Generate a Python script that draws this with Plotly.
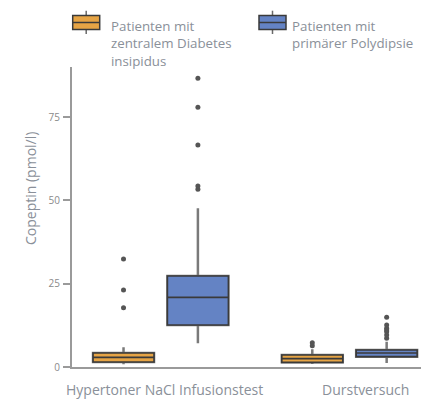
import plotly.graph_objects as go

# ---- data ----
categories = ["Hypertoner NaCl Infusionstest", "Durstversuch"]

cdi_q1 = [1.5, 1.4]
cdi_median = [2.9, 2.5]
cdi_q3 = [4.2, 3.6]
cdi_lower = [0.8, 0.9]
cdi_upper = [5.9, 5.3]
cdi_outliers = [[17.8, 23.1, 32.4], [6.4, 7.3]]

pp_q1 = [12.6, 3.1]
pp_median = [20.9, 4.2]
pp_q3 = [27.3, 5.1]
pp_lower = [7.1, 1.2]
pp_upper = [47.6, 7.6]
pp_outliers = [[53.3, 54.3, 66.6, 77.9, 86.6], [8.6, 9.6, 10.6, 11.1, 11.6, 12.6, 14.9]]

series_names = ["Patienten mit<br>zentralem Diabetes<br>insipidus", "Patienten mit<br>primärer Polydipsie"]
y_ticks = [0, 25, 50, 75]
y_title = "Copeptin (pmol/l)"

ORANGE = "#E6A445"
BLUE = "#6483C4"
TEXT = "#8a9099"
AXIS = "#9a9a9a"
FONT = "Open Sans"
FS = 14.0
FS_LEG = 13.3

# page body has an 8px margin: figure placed at (8, 8)
OFF = 8
W, H = 429 - OFF, 400 - OFF
L, R, T, B = 72 - OFF, 1, 67 - OFF, 33
PW, PH = W - L - R, H - T - B


def px(x):
    return (x - OFF - L) / PW


def py(y):
    return (H - B - (y - OFF)) / PH


fig = go.Figure()

series = [
    (cdi_q1, cdi_median, cdi_q3, cdi_lower, cdi_upper, cdi_outliers, ORANGE, "cdi"),
    (pp_q1, pp_median, pp_q3, pp_lower, pp_upper, pp_outliers, BLUE, "pp"),
]

for q1, med, q3, lo, hi, pts, col, grp in series:
    # whiskers + outliers layer (gray lines)
    fig.add_trace(go.Box(
        x=categories, q1=q1, median=med, q3=q3,
        lowerfence=lo, upperfence=hi, y=pts,
        boxpoints="outliers", jitter=0, pointpos=0,
        fillcolor=col, line=dict(color="#7a7a7a", width=2.5),
        whiskerwidth=0,
        marker=dict(color="#555555", size=5, outliercolor="#555555",
                    line=dict(width=0)),
        offsetgroup=grp, showlegend=False, hoverinfo="skip",
    ))
    # box outline layer (dark lines, no whiskers)
    fig.add_trace(go.Box(
        x=categories, q1=q1, median=med, q3=q3,
        lowerfence=q1, upperfence=q3,
        boxpoints=False,
        fillcolor=col, line=dict(color="#3a3a3a", width=1.6),
        whiskerwidth=0,
        offsetgroup=grp, showlegend=False, hoverinfo="skip",
    ))

shapes = []
annotations = []
# custom legend
for (x0, tx, col, name) in [(72.7, 108.5, ORANGE, series_names[0]),
                            (259, 290, BLUE, series_names[1])]:
    x1 = x0 + 27
    xc = (x0 + x1) / 2
    shapes.append(dict(type="line", xref="paper", yref="paper",
                       x0=px(xc), x1=px(xc), y0=py(10.7), y1=py(34),
                       line=dict(color="#6a6a6a", width=1.5), layer="above"))
    shapes.append(dict(type="rect", xref="paper", yref="paper",
                       x0=px(x0), x1=px(x1), y0=py(15.5), y1=py(29.5),
                       fillcolor=col, line=dict(color="#3a3a3a", width=1.5),
                       layer="above"))
    shapes.append(dict(type="line", xref="paper", yref="paper",
                       x0=px(x0), x1=px(x1), y0=py(22.5), y1=py(22.5),
                       line=dict(color="#3a3a3a", width=1.5), layer="above"))
    annotations.append(dict(text=name, xref="paper", yref="paper",
                            x=px(tx), y=py(15), xanchor="left", yanchor="top",
                            align="left", showarrow=False,
                            font=dict(family=FONT, size=FS_LEG, color=TEXT)))

annotations.append(dict(text=y_title, xref="paper", yref="paper",
                        x=px(30), y=py(189), textangle=-90,
                        xanchor="center", yanchor="middle", showarrow=False,
                        font=dict(family=FONT, size=FS, color=TEXT)))

# category labels (slightly right of the group centres, as in the reference)
for cat, shift in zip(categories, [4, 16]):
    annotations.append(dict(text=cat, xref="x", yref="paper",
                            x=cat, y=py(389.5), xshift=shift,
                            xanchor="center", yanchor="middle", showarrow=False,
                            borderpad=0,
                            font=dict(family=FONT, size=FS, color=TEXT)))

fig.update_layout(
    width=W, height=H,
    margin=dict(l=L, r=R, t=T, b=B, pad=0),
    paper_bgcolor="white", plot_bgcolor="white",
    boxmode="group", boxgap=0.212, boxgroupgap=0.18,
    showlegend=False,
    shapes=shapes, annotations=annotations,
    font=dict(family=FONT, color=TEXT),
)

fig.update_xaxes(
    type="category", range=[-0.47, 1.416],
    showline=True, linecolor=AXIS, linewidth=2,
    ticks="", showgrid=False, zeroline=False,
    showticklabels=False,
)
fig.update_yaxes(
    range=[0, 90], tickvals=y_ticks,
    showline=True, linecolor=AXIS, linewidth=2,
    ticks="outside", ticklen=7, tickwidth=2, tickcolor=AXIS,
    showgrid=False, zeroline=False,
    tickfont=dict(family=FONT, size=10, color="#8a8a8a"),
    ticklabelstandoff=1,
)

fig.write_html("out.html")
